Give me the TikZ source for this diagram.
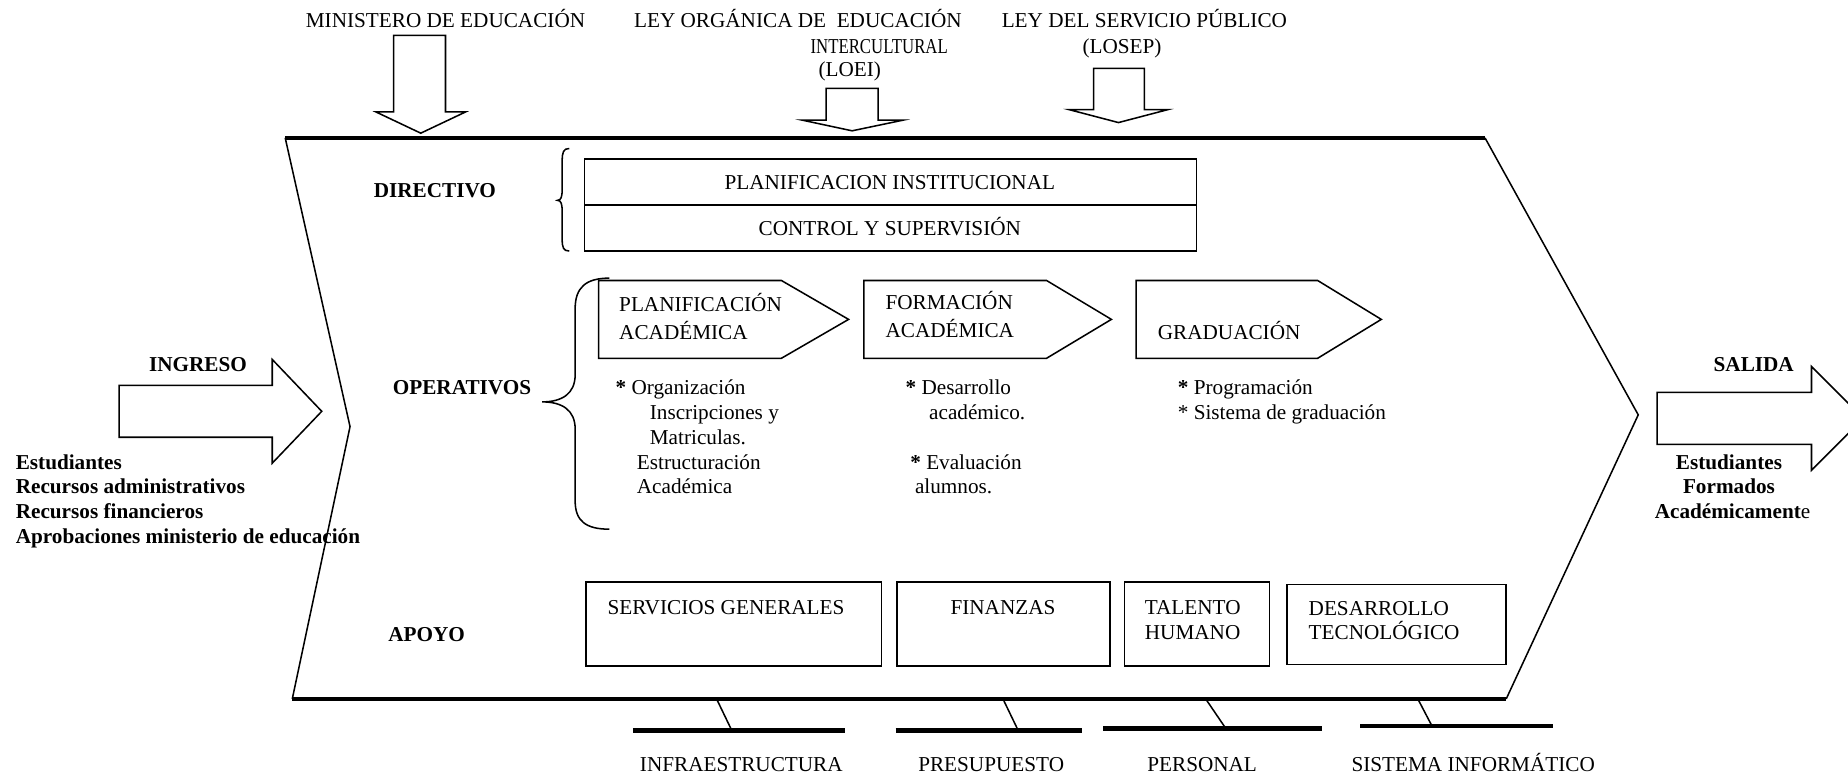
\documentclass[tikz,border=0pt]{standalone}
\usepackage{fontspec}
\usepackage{graphicx}
\setmainfont{Liberation Serif}
\begin{document}
\begin{tikzpicture}[x=0.5pt,y=-0.5pt,
  txt/.style={inner sep=0pt, font=\fontsize{9}{10.5}\selectfont, anchor=base west},
  ctxt/.style={inner sep=0pt, font=\fontsize{9}{10.5}\selectfont, anchor=base},
  bld/.style={font=\fontsize{9}{10.5}\selectfont\bfseries},
  thickln/.style={line width=2pt},
  thinln/.style={line width=0.65pt, line join=miter}]
\useasboundingbox (0,0) rectangle (1568,657);
\clip (0,0) rectangle (1568,657);

% top texts
\node[ctxt] (min) at (378,23) {MINISTERO DE EDUCACIÓN};
\node[ctxt] (loeiA) at (677,23) {LEY ORGÁNICA DE\ \ EDUCACIÓN};
\node[ctxt] (loeiB) at (746,45) {\scalebox{0.79}[1]{INTERCULTURAL}};
\node[ctxt] (loeiC) at (721,65) {(LOEI)};
\node[ctxt] (losepA) at (971,23) {LEY DEL SERVICIO PÚBLICO};
\node[ctxt] (losepB) at (952,45) {(LOSEP)};

% top arrows
\draw[thinln] (334,30) -- (378,30) -- (378,95) -- (395,95) -- (357,113) -- (319,95) -- (334,95) -- cycle;
\draw[thinln] (701,75) -- (745,75) -- (745,102) -- (766,102) -- (723,111) -- (681,102) -- (701,102) -- cycle;
\draw[thinln] (928,58) -- (971,58) -- (971,93) -- (991,93) -- (949,104) -- (907,93) -- (928,93) -- cycle;

% main chevron
\draw[thinln] (242,117) -- (297,362) -- (248,593);
\draw[thinln] (1260,117) -- (1390,352) -- (1278,593);
\draw[thickln] (242,117) -- (1260,117);
\draw[thickln] (248,593) -- (1278,593);

% ingreso
\draw[thinln] (101,327) -- (231,327) -- (231,305) -- (273,349) -- (231,393) -- (231,371) -- (101,371) -- cycle;
\node[ctxt, bld] (ing) at (168,315) {INGRESO};
\node[txt, bld] (inA) at (13,398) {Estudiantes};
\node[txt, bld] (inB) at (13,419) {Recursos administrativos};
\node[txt, bld] (inC) at (13,440) {Recursos financieros};
\node[txt, bld] (inD) at (13,461) {Aprobaciones ministerio de educación};

% salida
\draw[thinln] (1406,333) -- (1537,333) -- (1537,311) -- (1581,355) -- (1537,399) -- (1537,377) -- (1406,377) -- cycle;
\node[ctxt, bld] (sal) at (1488,315) {SALIDA};
\node[ctxt, bld] (outA) at (1467,398) {Estudiantes};
\node[ctxt, bld] (outB) at (1467,419) {Formados};
\node[ctxt] (outC) at (1470,440) {\textbf{Académicament}e};

% level labels
\node[ctxt, bld] (dir) at (369,168) {DIRECTIVO};
\node[ctxt, bld] (ope) at (392,335) {OPERATIVOS};
\node[ctxt, bld] (apo) at (362,544) {APOYO};

% directivo brace and boxes
\draw[thinln] (483,126) .. controls (478,126) and (477,129) .. (477,137) -- (477,161)
  .. controls (477,167) and (476,170) .. (473,170)
  .. controls (476,170) and (477,173) .. (477,179) -- (477,203)
  .. controls (477,210) and (478,213) .. (483,213);
\draw[thinln] (496,135) rectangle (1015,174);
\draw[thinln] (496,174) rectangle (1015,213);
\node[ctxt] (pinst) at (755,161) {PLANIFICACION INSTITUCIONAL};
\node[ctxt] (csup) at (755,200) {CONTROL Y SUPERVISIÓN};

% operativos brace
\draw[thinln] (517,236) .. controls (497,236) and (488,244) .. (488,262) -- (488,318)
  .. controls (488,334) and (477,341) .. (460,341)
  .. controls (477,341) and (488,348) .. (488,364) -- (488,425)
  .. controls (488,442) and (497,449) .. (517,449);

% operativos chevrons
\draw[thinln] (508,238) -- (663,238) -- (720,271) -- (663,304) -- (508,304) -- cycle;
\draw[thinln] (733,238) -- (888,238) -- (943,271) -- (888,304) -- (733,304) -- cycle;
\draw[thinln] (964,238) -- (1118,238) -- (1172,271) -- (1118,304) -- (964,304) -- cycle;
\node[txt] (plA) at (525,264) {PLANIFICACIÓN};
\node[txt] (plB) at (525,288) {ACADÉMICA};
\node[txt] (foA) at (751,263) {FORMACIÓN};
\node[txt] (foB) at (751,286) {ACADÉMICA};
\node[txt] (gra) at (982,288) {GRADUACIÓN};

% bullet texts
\node[txt] (b1) at (522,335) {\textbf{*} Organización};
\node[txt] (b2) at (551,356) {Inscripciones y};
\node[txt] (b3) at (551,377) {Matriculas.};
\node[txt] (b4) at (540,398) {Estructuración};
\node[txt] (b5) at (540,419) {Académica};
\node[txt] (c1) at (768,335) {\textbf{*} Desarrollo};
\node[txt] (c2) at (788,356) {académico.};
\node[txt] (c3) at (772,398) {\textbf{*} Evaluación};
\node[txt] (c4) at (776,419) {alumnos.};
\node[txt] (d1) at (999,335) {\textbf{*} Programación};
\node[txt] (d2) at (999,356) {* Sistema de graduación};

% apoyo boxes
\draw[thinln] (497,494) rectangle (748,565);
\draw[thinln] (761,494) rectangle (942,565);
\draw[thinln] (954,494) rectangle (1077,565);
\draw[thinln] (1092,496) rectangle (1278,564);
\node[ctxt] (sg) at (616,521) {SERVICIOS GENERALES};
\node[ctxt] (fin) at (851,521) {FINANZAS};
\node[txt] (thA) at (971,521) {TALENTO};
\node[txt] (thB) at (971,543) {HUMANO};
\node[txt] (dtA) at (1110,522) {DESARROLLO};
\node[txt] (dtB) at (1110,543) {TECNOLÓGICO};

% bottom branches
\coordinate (r1) at (608,593); \coordinate (s1) at (621,620);
\coordinate (r2) at (851,593); \coordinate (s2) at (864,620);
\coordinate (r3) at (1023,593); \coordinate (s3) at (1040,618);
\coordinate (r4) at (1203,593); \coordinate (s4) at (1215,616);
\draw[thickln] (537,620) -- (717,620);
\draw[thickln] (760,620) -- (918,620);
\draw[thickln] (936,618) -- (1122,618);
\draw[thickln] (1154,616) -- (1318,616);
\draw[thinln] (r1) -- (s1);
\draw[thinln] (r2) -- (s2);
\draw[thinln] (r3) -- (s3);
\draw[thinln] (r4) -- (s4);
\node[ctxt] (inf) at (629,655) {INFRAESTRUCTURA};
\node[ctxt] (pre) at (841,655) {PRESUPUESTO};
\node[ctxt] (per) at (1020,655) {PERSONAL};
\node[ctxt] (sis) at (1250,655) {SISTEMA INFORMÁTICO};
\end{tikzpicture}
\end{document}
